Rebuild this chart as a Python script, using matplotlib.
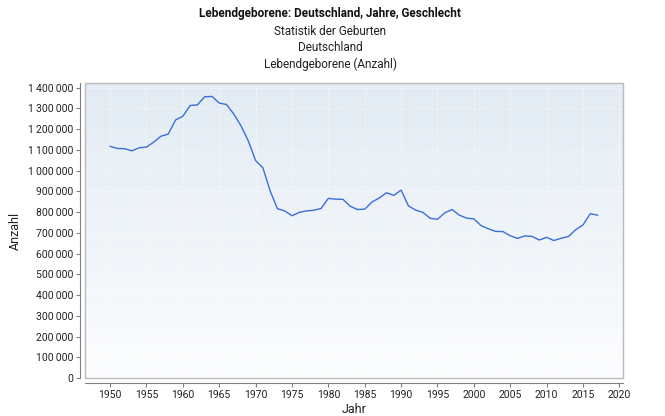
import numpy as np
import matplotlib
matplotlib.use("Agg")
import matplotlib.pyplot as plt
from matplotlib.ticker import FuncFormatter, MultipleLocator
from matplotlib.patches import Rectangle

plt.rcParams['font.family'] = ['Roboto', 'DejaVu Sans']

# Lebendgeborene in Deutschland, 1950-2017
jahre = list(range(1950, 2018))
geborene = [
    1116701, 1106380, 1105084, 1095029, 1109743, 1113408, 1137169, 1165555,
    1175870, 1243922, 1261614, 1313505, 1316534, 1355595, 1357304, 1325386,
    1318303, 1272276, 1214968, 1142366, 1047737, 1013396, 901657, 815969,
    805500, 782310, 798334, 805496, 808619, 817217, 865789, 862100,
    861275, 827933, 812292, 813803, 848232, 867969, 892993, 880459,
    905675, 830019, 809114, 798447, 769603, 765221, 796013, 812173,
    785034, 770744, 766999, 734475, 719250, 706721, 705622, 685795,
    672724, 684862, 682514, 665126, 677947, 662685, 673544, 682069,
    714927, 737575, 792141, 784901,
]

titel = "Lebendgeborene: Deutschland, Jahre, Geschlecht"
untertitel = "Statistik der Geburten\nDeutschland\nLebendgeborene (Anzahl)"

W, H = 665, 416
fig = plt.figure(figsize=(W / 100, H / 100), dpi=100)
ax = fig.add_axes([85 / W, (H - 378) / H, (623 - 85) / W, (378 - 83) / H])

# background gradient
grad = np.linspace(0, 1, 256).reshape(-1, 1)
top = np.array([0.886, 0.922, 0.953])
bot = np.array([0.988, 0.992, 0.998])
img = top * (1 - grad[..., None]) + bot * grad[..., None]
ax.imshow(img, extent=[0, 1, 0, 1], transform=ax.transAxes, aspect='auto',
          zorder=0, interpolation='bilinear')

ax.plot(jahre, geborene, color='#3a6fd8', lw=1.0, zorder=3)

ax.set_xlim(1946.55, 2020.5)
ax.set_ylim(0, 1422000)
ax.xaxis.set_major_locator(MultipleLocator(5))
ax.yaxis.set_major_locator(MultipleLocator(100000))
ax.yaxis.set_major_formatter(FuncFormatter(lambda v, p: f"{int(v):,}".replace(",", "\u2009")))

ax.grid(True, color='white', ls=(0, (2, 2)), lw=0.7, alpha=0.6, zorder=1)
ax.set_axisbelow(False)

for s in ['top', 'right']:
    ax.spines[s].set_color('#bcbcbc')
for s in ['left', 'bottom']:
    ax.spines[s].set_position(('outward', 3.6))
    ax.spines[s].set_color('#808080')
ax.add_patch(Rectangle((0, 0), 1, 1, transform=ax.transAxes, fill=False,
                       ec='#bcbcbc', lw=1.0, zorder=4, clip_on=False))

ax.tick_params(axis='both', labelsize=7.5, length=3, width=0.8, color='#808080',
               labelcolor='#222222', pad=2)

ax.set_xlabel("Jahr", fontsize=9, color='#222222', labelpad=2)
ax.set_ylabel("Anzahl", fontsize=9, color='#222222', labelpad=4)

fig.text(330 / W, 1 - 13 / H, titel, ha='center', va='center', fontsize=8.5,
         fontweight='bold', color='#111111')
fig.text(330 / W, 1 - 48 / H, untertitel, ha='center', va='center', fontsize=8.5,
         color='#222222', linespacing=1.35)

fig.savefig("out.png", dpi=100)
